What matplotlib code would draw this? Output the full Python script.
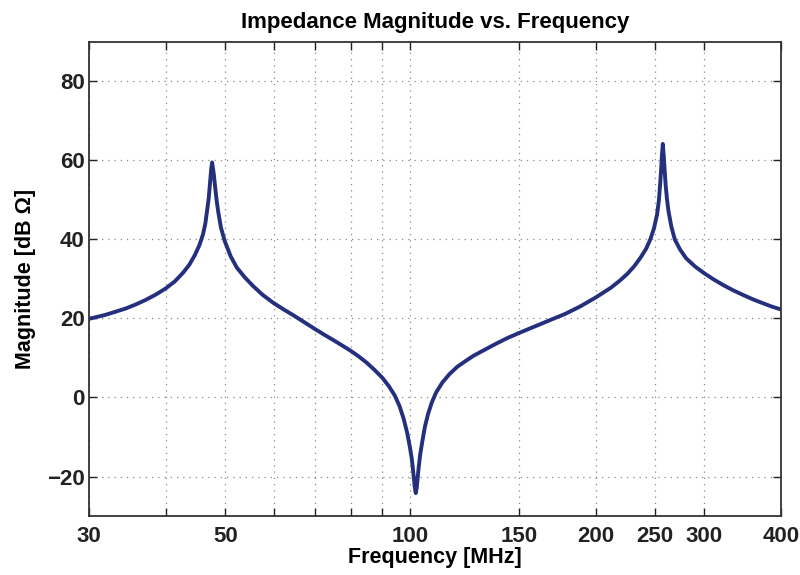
import matplotlib
matplotlib.use('Agg')
import matplotlib.pyplot as plt
from matplotlib.ticker import FixedLocator, FixedFormatter, NullLocator

# values
freq_mhz = [30.0, 31.9, 34.4, 35.7, 37.0, 38.5, 40.0, 41.4, 42.7, 43.7,
            44.6, 45.4, 46.0, 46.4, 46.7, 47.0, 47.2, 47.45, 47.6, 47.75,
            47.9, 48.1, 48.4, 48.7, 49.2, 49.9, 51.0, 52.2, 53.8, 55.5, 57.5,
            59.8, 62.2, 64.7, 67.3, 70.0, 72.4, 74.8, 77.4, 80.0, 82.4,
            84.9, 87.4, 90.0, 92.3, 94.3, 96.0, 97.5, 98.8, 99.8, 100.5,
            101.0, 101.6, 102.0, 102.4, 103.0, 103.7, 104.6, 105.6, 106.8, 108.3,
            110.1, 112.7, 115.7, 119.2, 123.1, 126.4, 131.0, 137.7, 143.5, 150.0,
            156.5, 163.4, 170.5, 178.1, 188.5, 200.0, 211.8, 219.0, 225.2, 231.0,
            236.6, 241.5, 245.4, 248.8, 251.7, 253.4, 254.6, 255.6, 256.4, 257.2,
            258.0, 258.9, 259.9, 261.2, 262.7, 265.5, 269.0, 274.5, 280.8, 290.0,
            300.0, 311.0, 323.0, 335.0, 348.0, 361.0, 375.0, 387.0, 400.0]
mag_db = [19.9, 20.9, 22.5, 23.5, 24.6, 26.0, 27.6, 29.4, 31.6, 33.6,
          36.0, 38.6, 41.3, 44.0, 47.2, 50.5, 53.9, 58.0, 59.5, 58.0,
          56.5, 53.8, 50.0, 47.0, 43.0, 39.6, 35.8, 32.9, 30.4, 28.2, 26.0,
          24.0, 22.3, 20.7, 19.0, 17.3, 15.9, 14.6, 13.2, 11.8, 10.4,
          8.8, 7.0, 5.0, 2.8, 0.5, -2.2, -5.4, -9.0, -12.6, -15.5,
          -18.5, -22.5, -24.2, -22.8, -18.5, -14.5, -10.9, -7.3, -4.2, -1.3,
          1.3, 3.8, 5.9, 7.8, 9.3, 10.5, 11.8, 13.6, 15.0, 16.3,
          17.5, 18.7, 19.9, 21.1, 23.0, 25.3, 27.8, 29.6, 31.3, 33.2,
          35.4, 37.6, 40.0, 42.8, 46.3, 49.8, 53.9, 57.8, 61.5, 64.2,
          61.5, 57.8, 53.9, 50.3, 47.2, 43.3, 40.0, 37.4, 35.2, 33.2,
          31.5, 29.9, 28.4, 27.1, 25.9, 24.8, 23.8, 23.0, 22.3]

x_ticks = [30, 40, 50, 60, 70, 80, 90, 100, 150, 200, 250, 300, 400]
x_labels = ['30', '', '50', '', '', '', '', '100', '150', '200', '250', '300', '400']
y_ticks = [-20, 0, 20, 40, 60, 80]
y_labels = ['\u221220', '0', '20', '40', '60', '80']

plt.rcParams['font.family'] = ['Liberation Sans', 'DejaVu Sans']
plt.rcParams['font.weight'] = 'bold'

fig = plt.figure(figsize=(8, 5.75), dpi=100)
ax = fig.add_axes([0.111, 0.1026, 0.865, 0.8244])

ax.plot(freq_mhz, mag_db, color='#242f7e', linewidth=2.8,
        solid_joinstyle='round', solid_capstyle='round')

ax.set_xscale('log')
ax.set_xlim(30, 400)
ax.set_ylim(-30, 90)
ax.xaxis.set_major_locator(FixedLocator(x_ticks))
ax.xaxis.set_major_formatter(FixedFormatter(x_labels))
ax.xaxis.set_minor_locator(NullLocator())
ax.set_yticks(y_ticks)
ax.set_yticklabels(y_labels)

ax.tick_params(direction='in', top=True, right=True, length=6, width=1,
               labelsize=16, colors='#222222')
ax.tick_params(axis='x', pad=7)
ax.tick_params(axis='y', pad=3)
for lab in ax.get_xticklabels() + ax.get_yticklabels():
    lab.set_fontweight('bold')

ax.grid(True, linestyle=(0, (1, 4)), color='#888888', linewidth=0.9)
for s in ax.spines.values():
    s.set_linewidth(1.3)
    s.set_color('#333333')

ax.set_title('Impedance Magnitude vs. Frequency', fontsize=16, fontweight='bold', pad=10)
ax.set_xlabel('Frequency [MHz]', fontsize=15.5, fontweight='bold', labelpad=0)
ax.set_ylabel('Magnitude [dB \u03a9]', fontsize=15.5, fontweight='bold', labelpad=8)

fig.savefig('out.png', dpi=100)
